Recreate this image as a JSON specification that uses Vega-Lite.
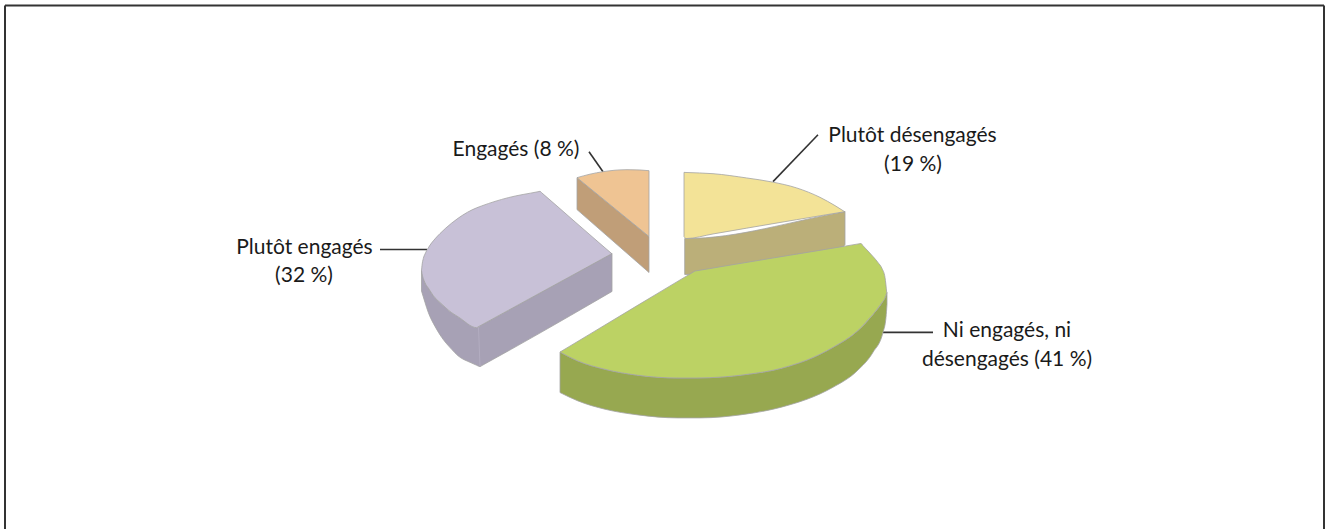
{"$schema":"https://vega.github.io/schema/vega-lite/v6.json","width":1330,"height":530,"padding":0,"autosize":{"type":"fit","contains":"padding"},"background":"white","view":{"stroke":null},
"datasets":{
"faces":[
{"piece":"engages32_wall","x":421.5,"top":271,"bottom":291.5},{"piece":"engages32_wall","x":425,"top":283.3,"bottom":303},{"piece":"engages32_wall","x":428.3,"top":288.5,"bottom":313},{"piece":"engages32_wall","x":435,"top":298.3,"bottom":327},{"piece":"engages32_wall","x":441.7,"top":304.7,"bottom":338},{"piece":"engages32_wall","x":451.7,"top":313.3,"bottom":350},{"piece":"engages32_wall","x":458.3,"top":317.5,"bottom":356.7},{"piece":"engages32_wall","x":470,"top":325,"bottom":363},{"piece":"engages32_wall","x":476.7,"top":328.3,"bottom":366},{"piece":"engages32_wall","x":480,"top":326.5,"bottom":367.3},{"piece":"engages32_wall","x":482,"top":325.4,"bottom":366.2},{"piece":"engages32_wall","x":600,"top":260.6,"bottom":299},{"piece":"engages32_wall","x":612,"top":254,"bottom":292},
{"piece":"engages32_top","x":421.5,"top":271,"bottom":271},{"piece":"engages32_top","x":422,"top":266,"bottom":274},{"piece":"engages32_top","x":423.3,"top":259,"bottom":279},{"piece":"engages32_top","x":425,"top":254.5,"bottom":283.3},{"piece":"engages32_top","x":428.3,"top":248.3,"bottom":288.5},{"piece":"engages32_top","x":435,"top":239.3,"bottom":298.3},{"piece":"engages32_top","x":440,"top":234,"bottom":303},{"piece":"engages32_top","x":451.7,"top":223.5,"bottom":313.3},{"piece":"engages32_top","x":458.3,"top":218.5,"bottom":317.5},{"piece":"engages32_top","x":476.7,"top":208.2,"bottom":328.3},{"piece":"engages32_top","x":478,"top":207.7,"bottom":327.5},{"piece":"engages32_top","x":481.7,"top":206.3,"bottom":325.5},{"piece":"engages32_top","x":508.3,"top":198,"bottom":310.9},{"piece":"engages32_top","x":538,"top":192.1,"bottom":294.6},{"piece":"engages32_top","x":540,"top":191.7,"bottom":293.5},{"piece":"engages32_top","x":542,"top":193.4,"bottom":292.4},{"piece":"engages32_top","x":576,"top":223.1,"bottom":273.8},{"piece":"engages32_top","x":600,"top":244,"bottom":260.6},{"piece":"engages32_top","x":612,"top":254.3,"bottom":254},
{"piece":"engages8_wall","x":577,"top":178,"bottom":210},{"piece":"engages8_wall","x":649,"top":237,"bottom":273},
{"piece":"engages8_top","x":577,"top":178,"bottom":178},{"piece":"engages8_top","x":590,"top":174.5,"bottom":188.7},{"piece":"engages8_top","x":603,"top":172,"bottom":199.3},{"piece":"engages8_top","x":627,"top":170,"bottom":219},{"piece":"engages8_top","x":640,"top":170.3,"bottom":229.6},{"piece":"engages8_top","x":649,"top":171,"bottom":237},
{"piece":"desengages19_wall","x":684.7,"top":239,"bottom":275},{"piece":"desengages19_wall","x":686,"top":239,"bottom":275},{"piece":"desengages19_wall","x":843.3,"top":212.3,"bottom":247},{"piece":"desengages19_wall","x":845,"top":212,"bottom":245},
{"piece":"desengages19_top","x":684,"top":172.7,"bottom":237},{"piece":"desengages19_top","x":686,"top":172.8,"bottom":239},{"piece":"desengages19_top","x":713,"top":174,"bottom":234.4},{"piece":"desengages19_top","x":746.7,"top":178.3,"bottom":228.6},{"piece":"desengages19_top","x":773,"top":182.5,"bottom":224.1},{"piece":"desengages19_top","x":796.7,"top":188.3,"bottom":220.1},{"piece":"desengages19_top","x":820,"top":197.7,"bottom":216.2},{"piece":"desengages19_top","x":835,"top":206,"bottom":213.7},{"piece":"desengages19_top","x":845,"top":212.3,"bottom":212},
{"piece":"ni41_wall","x":560,"top":352.7,"bottom":393.3},{"piece":"ni41_wall","x":578,"top":361.7,"bottom":401.7},{"piece":"ni41_wall","x":605,"top":370,"bottom":410},{"piece":"ni41_wall","x":638,"top":376,"bottom":415.7},{"piece":"ni41_wall","x":678,"top":378.7,"bottom":418.7},{"piece":"ni41_wall","x":700,"top":378.6,"bottom":418.7},{"piece":"ni41_wall","x":722,"top":377.7,"bottom":417.7},{"piece":"ni41_wall","x":740,"top":376,"bottom":415.7},{"piece":"ni41_wall","x":755,"top":374,"bottom":413.5},{"piece":"ni41_wall","x":773,"top":371,"bottom":410},{"piece":"ni41_wall","x":790,"top":366.5,"bottom":405.5},{"piece":"ni41_wall","x":807,"top":360.7,"bottom":400},{"piece":"ni41_wall","x":833,"top":348,"bottom":388},{"piece":"ni41_wall","x":857,"top":332,"bottom":371.7},{"piece":"ni41_wall","x":873,"top":315,"bottom":353},{"piece":"ni41_wall","x":883,"top":301.7,"bottom":333},{"piece":"ni41_wall","x":886,"top":296,"bottom":318},{"piece":"ni41_wall","x":887,"top":293,"bottom":305},
{"piece":"ni41_top","x":560,"top":352.7,"bottom":352.7},{"piece":"ni41_top","x":578,"top":341.9,"bottom":361.7},{"piece":"ni41_top","x":605,"top":325.6,"bottom":370},{"piece":"ni41_top","x":638,"top":305.7,"bottom":376},{"piece":"ni41_top","x":678,"top":281.7,"bottom":378.7},{"piece":"ni41_top","x":693,"top":272.7,"bottom":378.7},{"piece":"ni41_top","x":695,"top":271.5,"bottom":378.7},{"piece":"ni41_top","x":697,"top":271.2,"bottom":378.7},{"piece":"ni41_top","x":722,"top":267,"bottom":377.7},{"piece":"ni41_top","x":740,"top":264,"bottom":376},{"piece":"ni41_top","x":755,"top":261.5,"bottom":374},{"piece":"ni41_top","x":773,"top":258.5,"bottom":371},{"piece":"ni41_top","x":790,"top":255.7,"bottom":366.5},{"piece":"ni41_top","x":807,"top":252.9,"bottom":360.7},{"piece":"ni41_top","x":833,"top":248.6,"bottom":348},{"piece":"ni41_top","x":857,"top":244.6,"bottom":332},{"piece":"ni41_top","x":859,"top":244.3,"bottom":330.2},{"piece":"ni41_top","x":861,"top":244,"bottom":328},{"piece":"ni41_top","x":863,"top":246.2,"bottom":326},{"piece":"ni41_top","x":868,"top":251.5,"bottom":320.3},{"piece":"ni41_top","x":873,"top":257,"bottom":315},{"piece":"ni41_top","x":878,"top":263,"bottom":308.5},{"piece":"ni41_top","x":882,"top":269,"bottom":303},{"piece":"ni41_top","x":885,"top":278,"bottom":298.5},{"piece":"ni41_top","x":886.7,"top":293,"bottom":293}
],
"leaders":[{"x":589,"y":152,"x2":603,"y2":172},{"x":380,"y":250,"x2":427,"y2":250},{"x":818,"y":135,"x2":773,"y2":182},{"x":883,"y":333,"x2":933,"y2":333}],
"frame":[{"x":5,"y":5.5,"x2":1324,"y2":5.5},{"x":5,"y":5.5,"x2":5,"y2":530},{"x":1324,"y":5.5,"x2":1324,"y2":530}],
"edges":[{"x":478.5,"y":328,"x2":480,"y2":367}],
"labels":[{"label":"Plutôt désengagés","x":912.5,"y":142},{"label":"(19 %)","x":913,"y":171},{"label":"Ni engagés, ni","x":1007,"y":338},{"label":"désengagés (41 %)","x":1007,"y":367},{"label":"Engagés (8 %)","x":516,"y":156},{"label":"Plutôt engagés","x":304.5,"y":254},{"label":"(32 %)","x":304,"y":283}]
},
"layer":[
{"data":{"name":"frame"},"mark":{"type":"rule","color":"#333333","strokeWidth":2},"encoding":{"x":{"field":"x","type":"quantitative","scale":{"domain":[0,1330],"nice":false,"zero":false},"axis":null},"y":{"field":"y","type":"quantitative","scale":{"domain":[530,0],"nice":false,"zero":false},"axis":null},"x2":{"field":"x2"},"y2":{"field":"y2"}}},
{"data":{"name":"leaders"},"mark":{"type":"rule","color":"#333333","strokeWidth":1.6},"encoding":{"x":{"field":"x","type":"quantitative","scale":{"domain":[0,1330],"nice":false,"zero":false},"axis":null},"y":{"field":"y","type":"quantitative","scale":{"domain":[530,0],"nice":false,"zero":false},"axis":null},"x2":{"field":"x2"},"y2":{"field":"y2"}}},
{"data":{"name":"faces"},"mark":{"type":"area","interpolate":"monotone","stroke":"#a3a3a3","strokeWidth":0.8,"opacity":1},"encoding":{"x":{"field":"x","type":"quantitative","scale":{"domain":[0,1330],"nice":false,"zero":false},"axis":null},"y":{"field":"top","type":"quantitative","scale":{"domain":[530,0],"nice":false,"zero":false},"axis":null},"y2":{"field":"bottom"},"color":{"field":"piece","type":"nominal","legend":null,"sort":null,"scale":{"domain":["engages32_wall","engages32_top","engages8_wall","engages8_top","desengages19_wall","desengages19_top","ni41_wall","ni41_top"],"range":["#A7A1B5","#C8C1D7","#C09E78","#EFC493","#BBAF79","#F3E397","#97A850","#BCD264"]}}}},
{"data":{"name":"edges"},"mark":{"type":"rule","color":"#B3ADC1","strokeWidth":1},"encoding":{"x":{"field":"x","type":"quantitative","scale":{"domain":[0,1330],"nice":false,"zero":false},"axis":null},"y":{"field":"y","type":"quantitative","scale":{"domain":[530,0],"nice":false,"zero":false},"axis":null},"x2":{"field":"x2"},"y2":{"field":"y2"}}},
{"data":{"name":"labels"},"mark":{"type":"text","font":"Lato","fontSize":21,"color":"#1a1a1a","align":"center","baseline":"alphabetic"},"encoding":{"x":{"field":"x","type":"quantitative","scale":{"domain":[0,1330],"nice":false,"zero":false},"axis":null},"y":{"field":"y","type":"quantitative","scale":{"domain":[530,0],"nice":false,"zero":false},"axis":null},"text":{"field":"label"}}}
]}
